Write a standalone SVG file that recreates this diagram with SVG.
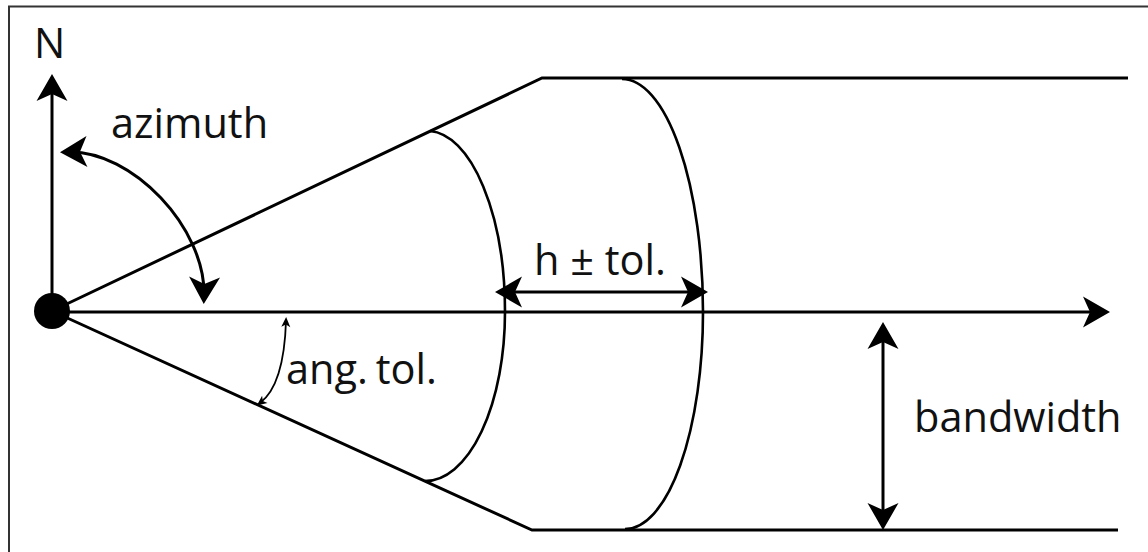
<svg xmlns="http://www.w3.org/2000/svg" width="1148" height="552" viewBox="0 0 1148 552">
<style>
.ln{fill:none;stroke:#000;stroke-width:3;stroke-linejoin:miter}
.arc{fill:none;stroke:#000;stroke-width:2.6}
.thin{fill:none;stroke:#000;stroke-width:1.8}
.lbl{font-family:"Open Sans","Liberation Sans",sans-serif;font-size:41.5px;fill:#111}
</style>
<defs>
<marker id="big" markerUnits="userSpaceOnUse" viewBox="-22 -17 32 34" markerWidth="32" markerHeight="34" refX="0" refY="0" orient="auto-start-reverse">
<path d="M8,0 L-19,-15.5 L-12,0 L-19,15.5 Z" fill="#000"/>
</marker>
<marker id="small" markerUnits="userSpaceOnUse" viewBox="-8 -6 14 12" markerWidth="14" markerHeight="12" refX="0" refY="0" orient="auto-start-reverse">
<path d="M4,0 L-6,-4.5 L-3.5,0 L-6,4.5 Z" fill="#000"/>
</marker>
</defs>
<rect width="1148" height="552" fill="#fff"/>
<g id="frame">
<path d="M9,552 V6.5 H1148" fill="none" stroke="#333" stroke-width="2"/>
</g>
<g id="connectors">
<line class="ln" x1="52" y1="311" x2="52" y2="82" marker-end="url(#big)"/>
<line class="ln" x1="52" y1="312" x2="1102" y2="312" marker-end="url(#big)"/>
<path class="ln" d="M52,311 L542,78 L1128,78"/>
<path class="ln" d="M52,311 L532,530 L1118,530"/>
<path class="arc" d="M430,131 A78,181 0 0 1 505,312 A80,169 0 0 1 425,481"/>
<path class="arc" d="M622,79 A81,233 0 0 1 703,312 A78,217 0 0 1 625,529"/>
<line class="ln" x1="503" y1="292" x2="700" y2="292" marker-start="url(#big)" marker-end="url(#big)"/>
<line class="ln" x1="883" y1="330" x2="883" y2="522" marker-start="url(#big)" marker-end="url(#big)"/>
<path class="ln" d="M68,152 C132,150 206,228 204,296" marker-start="url(#big)" marker-end="url(#big)"/>
<path class="thin" d="M286,321 Q284,385 260,403" marker-start="url(#small)" marker-end="url(#small)"/>
</g>
<g id="origin">
<circle cx="52" cy="311" r="18" fill="#000"/>
</g>
<g id="label-n"><text class="lbl" x="34" y="58">N</text></g>
<g id="label-azimuth"><text class="lbl" x="111" y="138">azimuth</text></g>
<g id="label-angtol"><text class="lbl" x="286" y="384" word-spacing="-3">ang. tol.</text></g>
<g id="label-htol"><text class="lbl" x="534" y="275">h ± tol.</text></g>
<g id="label-bandwidth"><text class="lbl" x="914" y="432">bandwidth</text></g>
</svg>
